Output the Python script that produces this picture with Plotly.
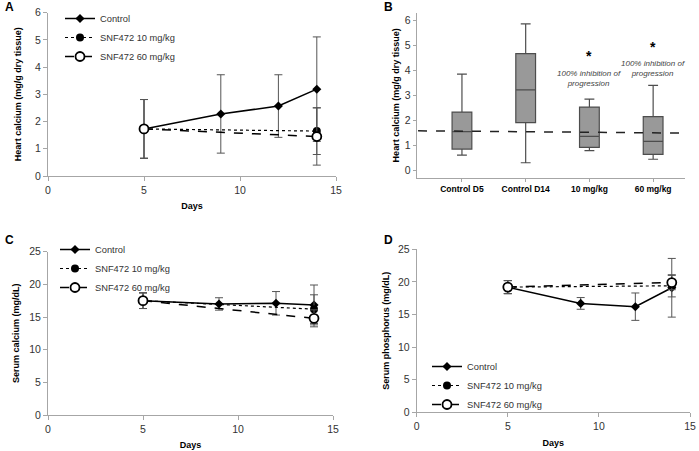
import plotly.graph_objects as go

# ---------------- data ----------------
days_ctrl = [5, 9, 12, 14]
days_trt = [5, 14]
series_names = ["Control", "SNF472 10 mg/kg", "SNF472 60 mg/kg"]

# Panel A: heart calcium (mg/g dry tissue)
a_ctrl = [1.73, 2.28, 2.57, 3.19]
a_ctrl_err = [1.08, 1.44, 1.15, 1.92]
a_10 = [1.73, 1.65]
a_10_err = [1.08, 0.86]
a_60 = [1.73, 1.45]
a_60_err = [1.08, 1.05]

# Panel C: serum calcium (mg/dL)
c_ctrl = [17.5, 17.0, 17.1, 16.85]
c_ctrl_err = [1.2, 0.95, 1.8, 3.05]
c_10 = [17.5, 16.2]
c_10_err = [1.2, 2.2]
c_60 = [17.5, 14.8]
c_60_err = [1.2, 1.3]

# Panel D: serum phosphorus (mg/dL)
d_ctrl = [19.2, 16.7, 16.2, 19.1]
d_ctrl_err = [1.0, 0.9, 2.1, 4.5]
d_10 = [19.2, 19.4]
d_10_err = [1.0, 1.7]
d_60 = [19.2, 19.9]
d_60_err = [1.0, 1.1]

# Panel B: box plot
b_groups = ["Control D5", "Control D14", "10 mg/kg", "60 mg/kg"]
b_low = [0.60, 0.29, 0.78, 0.43]
b_q1 = [0.84, 1.90, 0.91, 0.63]
b_med = [1.54, 3.21, 1.35, 1.15]
b_q3 = [2.32, 4.66, 2.52, 2.14]
b_high = [3.84, 5.85, 2.84, 3.39]
b_baseline = [1.57, 1.48]
b_note = "100% inhibition of<br>progression"
b_star_y = [4.58, 4.94]
b_note_y = [3.66, 4.06]

# ---------------- style ----------------
FONT = "Liberation Sans, Arial, sans-serif"
AXC = "#a6a6a6"
TXT = "#333333"
ERRC = "#555555"

fig = go.Figure()

styles = [
    dict(line=dict(color="black", width=1.5, dash="solid"),
         marker=dict(symbol="diamond", size=7, color="black")),
    dict(line=dict(color="black", width=1.2, dash="dot"),
         marker=dict(symbol="circle", size=8, color="black")),
    dict(line=dict(color="black", width=1.5, dash="dash"),
         marker=dict(symbol="circle", size=9, color="white", line=dict(color="black", width=1.8))),
]


def add_panel(xa, ya, leg, ctrl, ctrl_e, s10, s10_e, s60, s60_e):
    data = [(days_ctrl, ctrl, ctrl_e), (days_trt, s10, s10_e), (days_trt, s60, s60_e)]
    for (xs, ys, es), nm, st in zip(data, series_names, styles):
        fig.add_trace(go.Scatter(
            x=xs, y=ys, name=nm, mode="lines+markers",
            line=st["line"], marker=st["marker"],
            error_y=dict(type="data", array=es, visible=True, color=ERRC, thickness=1, width=4),
            xaxis=xa, yaxis=ya, legend=leg, hoverinfo="x+y",
        ))


add_panel("x", "y", "legend", a_ctrl, a_ctrl_err, a_10, a_10_err, a_60, a_60_err)
add_panel("x3", "y3", "legend2", c_ctrl, c_ctrl_err, c_10, c_10_err, c_60, c_60_err)
add_panel("x4", "y4", "legend3", d_ctrl, d_ctrl_err, d_10, d_10_err, d_60, d_60_err)

fig.add_trace(go.Box(
    x=b_groups, q1=b_q1, median=b_med, q3=b_q3, lowerfence=b_low, upperfence=b_high,
    fillcolor="#999999", line=dict(color="#4d4d4d", width=1.2), width=0.31, whiskerwidth=0.5,
    xaxis="x2", yaxis="y2", showlegend=False, boxpoints=False,
))

W, H = 699, 451


def dx(a, b):
    return [a / W, b / W]


def dy(top, bottom):
    return [1 - bottom / H, 1 - top / H]


tickf = dict(family=FONT, size=10.5, color=TXT)
titf = dict(family=FONT, size=9, color="black", weight="bold")
legf = dict(family=FONT, size=9.3, color=TXT)

common = dict(showline=True, linecolor=AXC, linewidth=1, ticks="outside", ticklen=4,
              tickcolor=AXC, showgrid=False, zeroline=False, tickfont=tickf, automargin=False)

lay = dict(
    template="none",
    width=W, height=H, margin=dict(l=0, r=0, t=0, b=0, autoexpand=False),
    paper_bgcolor="white", plot_bgcolor="white",
    font=dict(family=FONT, size=10, color=TXT),
    showlegend=True,
    xaxis=dict(domain=dx(48, 336), range=[0, 15], dtick=5, anchor="y",
               title=dict(text="Days", font=titf, standoff=8), **common),
    yaxis=dict(domain=dy(12.7, 176), range=[0, 6], dtick=1, anchor="x",
               title=dict(text="Heart calcium (mg/g dry tissue)", font=titf, standoff=11), **common),
    xaxis2=dict(domain=dx(416.7, 685), range=[-0.71, 3.5], anchor="y2", type="category",
                showline=True, linecolor=AXC, ticks="outside", ticklen=3, tickcolor=AXC,
                showgrid=False, zeroline=False, automargin=False,
                tickfont=dict(family=FONT, size=8.5, color="black", weight="bold")),
    yaxis2=dict(domain=dy(12.7, 178), range=[-0.32, 6.3], dtick=1, anchor="x2",
                title=dict(text="Heart calcium (mg/g dry tissue)", font=titf, standoff=3),
                showline=True, linecolor=AXC, ticks="outside", ticklen=3, tickcolor=AXC,
                showgrid=False, zeroline=False, tickfont=tickf, automargin=False),
    xaxis3=dict(domain=dx(48, 333), range=[0, 15], dtick=5, anchor="y3",
                title=dict(text="Days", font=titf, standoff=8), **common),
    yaxis3=dict(domain=dy(251.7, 415), range=[0, 25], dtick=5, anchor="x3",
                title=dict(text="Serum calcium (mg/dL)", font=titf, standoff=8), **common),
    xaxis4=dict(domain=dx(416.7, 690), range=[0, 15], dtick=5, anchor="y4",
                title=dict(text="Days", font=titf, standoff=8), **common),
    yaxis4=dict(domain=dy(249.3, 412.3), range=[0, 25], dtick=5, anchor="x4",
                title=dict(text="Serum phosphorus (mg/dL)", font=titf, standoff=6), **common),
    legend=dict(x=60 / W, y=1 - 4 / H, xanchor="left", yanchor="top", bgcolor="rgba(0,0,0,0)",
                font=legf, tracegroupgap=0, itemwidth=30),
    legend2=dict(x=55 / W, y=1 - 235 / H, xanchor="left", yanchor="top", bgcolor="rgba(0,0,0,0)",
                 font=legf, tracegroupgap=0, itemwidth=30),
    legend3=dict(x=427 / W, y=1 - 352 / H, xanchor="left", yanchor="top", bgcolor="rgba(0,0,0,0)",
                 font=legf, tracegroupgap=0, itemwidth=30),
)
fig.update_layout(**lay)

fig.add_shape(type="line", xref="x2 domain", yref="y2", x0=0.005, x1=0.98,
              y0=b_baseline[0], y1=b_baseline[1],
              line=dict(color="#222222", width=1.5, dash="dash"))

# panel letters
for letter, px, py in [("A", 3, 7), ("B", 382, 7.5), ("C", 3, 240), ("D", 382, 240.5)]:
    fig.add_annotation(text=letter, xref="paper", yref="paper", x=px / W, y=1 - py / H,
                       xanchor="left", yanchor="middle", showarrow=False,
                       font=dict(family=FONT, size=12, color="black", weight="bold"))

# B annotations
for grp, sy, ny in zip(b_groups[2:], b_star_y, b_note_y):
    fig.add_annotation(text="*", x=grp, y=sy, xref="x2", yref="y2", showarrow=False,
                       font=dict(family=FONT, size=14, color="black", weight="bold"))
    fig.add_annotation(text=b_note, x=grp, y=ny, xref="x2", yref="y2", showarrow=False,
                       font=dict(family=FONT, size=8, color="#444444", style="italic"))

fig.write_html("out.html", config={"displayModeBar": False},
               post_script="document.body.style.margin='0px';")
